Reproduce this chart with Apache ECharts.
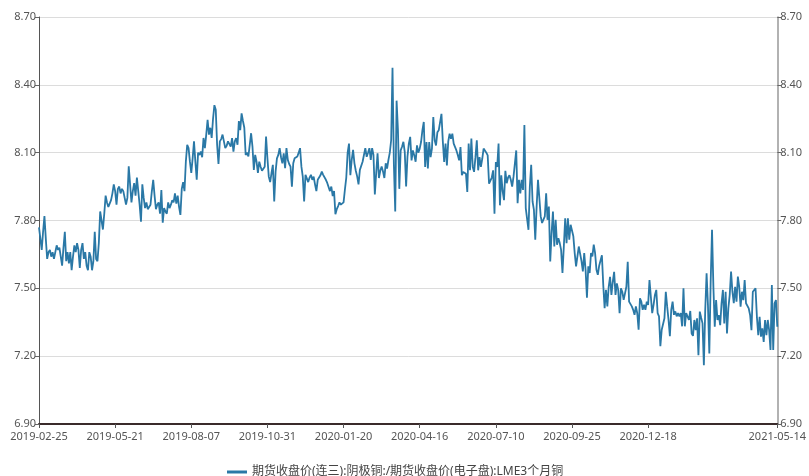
<!DOCTYPE html>
<html>
<head>
<meta charset="utf-8">
<script src="https://cdn.jsdelivr.net/npm/echarts@6/dist/echarts.min.js"></script>
<style>
html,body{margin:0;padding:0;background:#fff;}
#chart{width:809px;height:476px;}
</style>
</head>
<body>
<div id="chart"></div>
<script>
// ---- data ----
const seriesName = '期货收盘价(连三):阴极铜:/期货收盘价(电子盘):LME3个月铜';
const tickLabels = ['2019-02-25','2019-05-21','2019-08-07','2019-10-31','2020-01-20','2020-04-16','2020-07-10','2020-09-25','2020-12-18'];
const endLabel = '2021-05-14';
const yTicks = [6.9, 7.2, 7.5, 7.8, 8.1, 8.4, 8.7];

const values2019a = [
7.77,7.72,7.67,7.75,7.82,7.72,7.63,7.66,7.67,7.64,
7.66,7.63,7.66,7.69,7.67,7.68,7.64,7.60,7.68,7.75,
7.62,7.66,7.61,7.66,7.58,7.64,7.69,7.66,7.70,7.67,
7.59,7.67,7.70,7.63,7.66,7.60,7.58,7.66,7.64,7.58,
7.62,7.75,7.63,7.62,7.70,7.84,7.80,7.76,7.83,7.91,
7.88,7.86,7.855,7.89,7.92,7.96,7.93,7.87,7.94,7.95,
7.92,7.94,7.93,7.90,7.87,7.90,8.04,7.96,7.88,7.93,
7.965,7.91,7.99,7.93,7.87,7.795,7.96,7.90,7.855,7.88,
7.85,7.86,7.87,7.93,7.98,7.91,7.85,7.87,7.88,7.83,
7.935,7.79,7.855,7.84,7.83,7.88,7.855,7.87,7.89,7.88,
7.92,7.875,7.91,7.86,7.825,7.94,7.97,7.93,8.06,8.135,
8.12,8.06,8.01,8.075,8.15,8.06,7.98,8.10,8.09,8.105,
8.08,8.165,8.12,8.18,8.245,8.18,8.21,8.165,8.25,8.31,
8.29,8.135,8.05,8.15,8.16,8.18
];
const values2019b = [
8.18,8.12,8.13,8.15,8.155,8.127,8.164,8.105,8.15,8.164,
8.135,8.24,8.20,8.274,8.24,8.21,8.09,8.10,8.083,8.075,
8.186,8.127,8.024,8.09,8.06,8.01,8.06,8.038,8.02,8.016,
8.038,8.171,8.075,7.994,7.97,8.01,8.046,7.884,8.016,8.075,
8.09,8.12,8.08,8.053,8.097,8.031,8.12,8.068,8.05,8.038,
7.95,8.053,8.075,8.07,8.083,8.10,8.12,8.038,7.994,7.884,
8.002,7.994,7.97,7.99,8.002,7.98,7.994,7.96,7.93,7.98,
7.985,8.00,8.016,8.002,8.00,7.98,7.966,7.97,7.93,7.95,
7.908,7.93,7.828,7.85,7.864,7.88,7.87,7.875,7.88,7.937,
7.99,8.10,8.14,8.00,8.068,8.112,8.053,8.02,7.995,7.96,
8.024,8.03,8.06,8.068,8.12,8.082,8.10,8.12,8.068,8.12,
8.09,7.915,8.01,8.097,7.988,8.02,8.039,8.017,7.988,8.053,
8.03,8.068,8.10,8.155,8.476,8.05,7.84,8.33,8.20,7.94,
8.11,8.126,8.148,8.104,7.95,8.082,8.14,8.17,8.066,8.11,
8.088,8.06,8.132,8.10
];
const values2020 = [
8.118,8.147,8.20,8.236,8.037,8.147,8.03,8.147,8.08,8.118,
8.258,8.155,8.132,8.19,8.199,8.206,8.272,8.15,8.059,8.14,
8.044,8.15,8.184,8.162,8.184,8.14,8.132,8.11,8.09,8.066,
8.125,8.00,8.015,8.01,8.007,7.926,8.14,8.022,8.162,8.037,
8.015,8.08,8.155,8.022,8.08,8.037,8.073,8.118,8.11,8.10,
8.088,7.963,7.956,7.99,8.022,7.83,8.059,8.037,8.14,7.867,
8.00,7.93,7.89,8.02,7.965,7.99,8.00,7.98,7.95,7.994,
8.00,8.11,7.876,7.98,7.92,7.98,7.935,8.222,7.855,7.862,
7.759,7.95,8.046,7.884,7.847,7.715,7.862,7.98,7.899,7.818,
7.789,7.781,7.818,7.92,7.803,7.862,7.619,7.744,7.84,7.685,
7.803,7.693,7.722,7.70,7.67,7.568,7.685,7.81,7.70,7.81,
7.715,7.781,7.781,7.73,7.656,7.597,7.641,7.685,7.678,7.62,
7.575,7.656,7.582,7.458,7.597,7.568,7.656,7.641,7.693,7.656,
7.582,7.56
];
const values2021 = [
7.60,7.60,7.646,7.515,7.412,7.493,7.42,7.507,7.551,7.471,
7.529,7.573,7.471,7.522,7.493,7.39,7.50,7.485,7.449,7.478,
7.507,7.617,7.441,7.434,7.42,7.405,7.383,7.42,7.39,7.317,
7.456,7.441,7.405,7.427,7.405,7.441,7.427,7.537,7.463,7.39,
7.427,7.471,7.493,7.39,7.376,7.244,7.317,7.317,7.368,7.485,
7.42,7.361,7.288,7.405,7.441,7.383,7.398,7.376,7.39,7.376,
7.39,7.332,7.50,7.332,7.39,7.383,7.36,7.40,7.30,7.29,
7.36,7.315,7.367,7.204,7.397,7.37,7.345,7.16,7.404,7.567,
7.426,7.212,7.53,7.759,7.507,7.33,7.448,7.36,7.382,7.337,
7.434,7.493,7.345,7.485,7.30,7.411,7.47,7.574,7.485,7.434,
7.507,7.441,7.552,7.507,7.419,7.485,7.448,7.537,7.434,7.441,
7.411,7.382,7.315,7.485,7.493,7.50,7.374,7.293,7.374,7.286,
7.323,7.263,7.36,7.293,7.36,7.315,7.227,7.515,7.227,7.434,
7.448,7.33
];

// ---- build ----
const values = values2019a.concat(values2019b, values2020, values2021);
const lastIdx = values.length - 1;
const STEP = 56;
const categories = values.map((_, i) => i);
const showIdx = (i) => (i % STEP === 0 && i / STEP < tickLabels.length) || i === lastIdx;
const FONT = "'Noto Sans', 'Noto Sans CJK SC', sans-serif";

const yAxisBase = {
  type: 'value',
  min: yTicks[0],
  max: yTicks[yTicks.length - 1],
  interval: 0.3,
  axisTick: { show: true, length: 4, lineStyle: { color: '#666' } },
  axisLabel: { color: '#555', fontSize: 11, fontFamily: FONT, formatter: v => v.toFixed(2) }
};

const chart = echarts.init(document.getElementById('chart'), null, { renderer: 'canvas' });
chart.setOption({
  animation: false,
  backgroundColor: '#fff',
  grid: { left: 39, right: 31, top: 17, bottom: 52, containLabel: false },
  legend: {
    data: [seriesName],
    left: 222, top: 461,
    icon: 'rect', itemWidth: 20, itemHeight: 3,
    textStyle: { fontSize: 12, color: '#444', fontFamily: FONT }
  },
  xAxis: {
    type: 'category',
    data: categories,
    boundaryGap: false,
    axisLine: { lineStyle: { color: '#3a2b2b', width: 2 } },
    axisTick: { show: true, interval: showIdx, length: 4, lineStyle: { color: '#555' } },
    axisLabel: {
      interval: showIdx, color: '#555', fontSize: 11, fontFamily: FONT, margin: 7,
      formatter: (v, i) => (i === lastIdx ? endLabel : (tickLabels[Math.round(i / STEP)] || ''))
    },
    splitLine: { show: false }
  },
  yAxis: [
    Object.assign({}, yAxisBase, {
      position: 'left',
      axisLine: { show: true, lineStyle: { color: '#555', width: 1 } },
      axisLabel: Object.assign({}, yAxisBase.axisLabel, { margin: 3 }),
      splitLine: { show: true, lineStyle: { color: '#dcdcdc', width: 1 } }
    }),
    Object.assign({}, yAxisBase, {
      position: 'right',
      axisLine: { show: true, lineStyle: { color: '#999', width: 1.5 } },
      axisLabel: Object.assign({}, yAxisBase.axisLabel, { margin: 3 }),
      splitLine: { show: false }
    })
  ],
  series: [{
    name: seriesName,
    type: 'line',
    data: values,
    yAxisIndex: 0,
    symbol: 'none',
    lineStyle: { color: '#2a78a6', width: 1.8 },
    itemStyle: { color: '#2a78a6' }
  }]
});
</script>
</body>
</html>
